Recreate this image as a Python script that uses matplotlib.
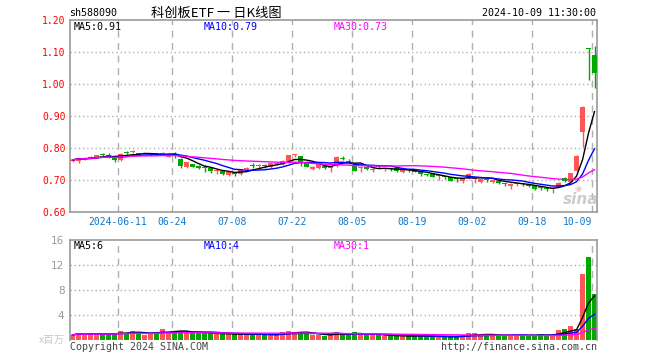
import matplotlib
matplotlib.use('Agg')
import matplotlib.pyplot as plt
import numpy as np
import pandas as pd
from matplotlib.transforms import blended_transform_factory

# ---------------- data ----------------
holidays = ['2024-06-10', '2024-09-16', '2024-09-17', '2024-10-01', '2024-10-02',
            '2024-10-03', '2024-10-04', '2024-10-07']
dates = [d.strftime('%Y-%m-%d') for d in pd.bdate_range('2024-05-29', '2024-10-09')
         if d.strftime('%Y-%m-%d') not in holidays]

opens = [0.760, 0.760, 0.765, 0.770, 0.772, 0.780, 0.779, 0.776, 0.762, 0.787,
         0.786, 0.782, 0.776, 0.778, 0.783, 0.782, 0.773, 0.780, 0.767, 0.742,
         0.750, 0.745, 0.740, 0.738, 0.728, 0.728, 0.716, 0.722, 0.718, 0.734,
         0.745, 0.744, 0.746, 0.740, 0.750, 0.750, 0.758, 0.777, 0.775, 0.752,
         0.733, 0.739, 0.744, 0.737, 0.744, 0.768, 0.759, 0.743, 0.737, 0.740,
         0.731, 0.744, 0.733, 0.736, 0.737, 0.725, 0.733, 0.731, 0.728, 0.717,
         0.721, 0.712, 0.711, 0.708, 0.705, 0.698, 0.706, 0.703, 0.695, 0.702,
         0.694, 0.698, 0.689, 0.681, 0.688, 0.688, 0.683, 0.681, 0.677, 0.674,
         0.671, 0.679, 0.705, 0.695, 0.729, 0.851, 1.112, 1.091]
highs = [0.766, 0.770, 0.771, 0.774, 0.779, 0.785, 0.783, 0.777, 0.783, 0.792,
         0.794, 0.784, 0.781, 0.781, 0.784, 0.788, 0.784, 0.786, 0.768, 0.757,
         0.751, 0.746, 0.746, 0.740, 0.735, 0.729, 0.725, 0.724, 0.735, 0.740,
         0.752, 0.749, 0.749, 0.754, 0.756, 0.762, 0.778, 0.782, 0.776, 0.753,
         0.743, 0.750, 0.745, 0.742, 0.774, 0.775, 0.767, 0.752, 0.742, 0.741,
         0.736, 0.746, 0.737, 0.738, 0.738, 0.732, 0.737, 0.733, 0.729, 0.720,
         0.722, 0.716, 0.713, 0.709, 0.706, 0.706, 0.721, 0.706, 0.703, 0.705,
         0.701, 0.699, 0.690, 0.690, 0.690, 0.690, 0.684, 0.682, 0.678, 0.675,
         0.677, 0.693, 0.710, 0.722, 0.777, 0.930, 1.112, 1.120]
lows = [0.755, 0.752, 0.763, 0.767, 0.770, 0.776, 0.768, 0.757, 0.760, 0.780,
        0.783, 0.778, 0.775, 0.776, 0.777, 0.778, 0.771, 0.768, 0.736, 0.736,
        0.740, 0.733, 0.726, 0.722, 0.719, 0.716, 0.711, 0.712, 0.716, 0.728,
        0.738, 0.738, 0.738, 0.738, 0.748, 0.748, 0.752, 0.771, 0.744, 0.740,
        0.731, 0.734, 0.735, 0.726, 0.742, 0.7625, 0.752, 0.728, 0.726, 0.732,
        0.725, 0.738, 0.727, 0.729, 0.726, 0.722, 0.726, 0.724, 0.712, 0.714,
        0.709, 0.700, 0.702, 0.697, 0.693, 0.690, 0.704, 0.690, 0.690, 0.695,
        0.692, 0.689, 0.680, 0.671, 0.681, 0.680, 0.677, 0.670, 0.669, 0.667,
        0.660, 0.678, 0.695, 0.693, 0.727, 0.802, 1.013, 0.987]
closes = [0.763, 0.768, 0.768, 0.771, 0.777, 0.778, 0.776, 0.763, 0.782, 0.785,
          0.788, 0.781, 0.779, 0.780, 0.778, 0.783, 0.782, 0.778, 0.744, 0.756,
          0.742, 0.737, 0.738, 0.727, 0.729, 0.718, 0.724, 0.720, 0.733, 0.735,
          0.743, 0.745, 0.744, 0.752, 0.753, 0.760, 0.777, 0.778, 0.754, 0.742,
          0.742, 0.749, 0.737, 0.738, 0.773, 0.766, 0.757, 0.729, 0.741, 0.733,
          0.735, 0.740, 0.734, 0.734, 0.727, 0.731, 0.731, 0.726, 0.718, 0.716,
          0.710, 0.713, 0.708, 0.698, 0.703, 0.705, 0.720, 0.705, 0.702, 0.700,
          0.700, 0.690, 0.687, 0.689, 0.689, 0.686, 0.681, 0.671, 0.675, 0.672,
          0.672, 0.692, 0.698, 0.721, 0.776, 0.927, 1.110, 1.035]
volumes = [0.80, 1.17, 0.80, 1.07, 0.90, 0.96, 0.96, 1.07, 1.49, 1.07,
           1.49, 1.07, 0.80, 1.07, 1.33, 1.76, 1.17, 1.44, 1.44, 1.33,
           1.07, 1.07, 1.07, 1.07, 0.96, 0.96, 0.91, 0.91, 0.91, 0.91,
           0.91, 0.91, 0.80, 0.80, 0.80, 1.33, 1.49, 1.33, 1.17, 0.96,
           0.80, 0.80, 0.69, 0.90, 1.33, 0.80, 0.80, 1.33, 0.96, 0.80,
           0.80, 0.80, 0.64, 0.64, 0.64, 0.64, 0.64, 0.64, 0.64, 0.53,
           0.53, 0.53, 0.53, 0.53, 0.53, 0.75, 1.12, 1.07, 0.75, 0.75,
           0.75, 0.75, 0.75, 0.75, 0.75, 0.75, 0.75, 0.75, 0.96, 0.75,
           0.75, 1.60, 1.76, 2.24, 1.76, 10.56, 13.33, 7.36]

tick_dates = ['2024-06-11', '2024-06-24', '2024-07-08', '2024-07-22', '2024-08-05',
              '2024-08-19', '2024-09-02', '2024-09-18', '2024-10-09']
tick_labels = ['2024-06-11', '06-24', '07-08', '07-22', '08-05', '08-19', '09-02',
               '09-18', '10-09']
price_ticks = [0.60, 0.70, 0.80, 0.90, 1.00, 1.10, 1.20]
vol_ticks = [4, 8, 12, 16]

symbol = 'sh588090'
title = '科创板ETF 一 日K线图'
timestamp = '2024-10-09 11:30:00'
ma_text = ['MA5:0.91', 'MA10:0.79', 'MA30:0.73']
vma_text = ['MA5:6', 'MA10:4', 'MA30:1']

# ---------------- style ----------------
RED = '#ff5555'
GREEN = '#00a800'
FRAME = '#999999'
GRID = '#b0b0b0'
MONO = 'DejaVu Sans Mono'
CJK = ['Noto Sans CJK SC', 'DejaVu Sans']
MA_COLORS = ['#000000', '#0000ff', '#ff00ff']

W, H = 660, 360
fig = plt.figure(figsize=(6.6, 3.6), dpi=100)
fig.patch.set_facecolor('white')


def fp(x, y):
    return x / W, 1 - y / H


ax = fig.add_axes([70 / W, 1 - 212 / H, 527 / W, 192 / H])
axv = fig.add_axes([70 / W, 1 - 340 / H, 527 / W, 100 / H])

o = np.array(opens)
h = np.array(highs)
l = np.array(lows)
c = np.array(closes)
v = np.array(volumes)
n = len(c)
x = np.arange(n)
bw = 5 / 6
xc = x + bw / 2
up = c >= o
colors = np.where(up, RED, GREEN)
tick_idx = [dates.index(d) for d in tick_dates]

for a in (ax, axv):
    a.set_xlim(0, 527 / 6)
    for s in a.spines.values():
        s.set_color(FRAME)
        s.set_linewidth(1.2)
    a.set_xticks([])
    for ti in tick_idx:
        a.axvline(ti, color=GRID, lw=1, ls=(0, (5, 4)), zorder=0.5)

# ---- price panel ----
ax.set_ylim(0.60, 1.20)
for p in price_ticks[1:-1]:
    ax.axhline(p, color=GRID, lw=1, ls=(0, (1, 2)), zorder=0.5)
px = 0.6 / 192
bottoms = np.minimum(o, c)
heights = np.maximum(np.abs(c - o), px)
ax.vlines(xc, l, h, colors=colors, lw=1, zorder=2)
ax.bar(x, heights, width=bw, bottom=bottoms, align='edge', color=colors,
       linewidth=0, zorder=3)

cs = pd.Series(c)
for win, col in zip([5, 10, 30], MA_COLORS):
    ax.plot(xc, cs.rolling(win, min_periods=1).mean(), color=col, lw=1, zorder=4)

ax.set_yticks(price_ticks)
ax.set_yticklabels(['%.2f' % p for p in price_ticks], color='#ff0000',
                   fontsize=7, family=MONO)
ax.tick_params(axis='y', length=0, pad=3)

tr = blended_transform_factory(ax.transData, ax.transAxes)
for ti, lab in zip(tick_idx, tick_labels):
    ha = 'right' if ti == n - 1 else 'center'
    ax.text(ti, -10 / 192, lab, transform=tr, ha=ha, va='center', fontsize=7,
            family=MONO, color='#0a78d0')

# sina watermark
fig.text(*fp(578, 189), '◉', ha='center', va='center', fontsize=6,
         color='#e8b4b4', alpha=0.8)
fig.text(*fp(581, 200), 'sina', ha='center', va='center', fontsize=11,
         style='italic', weight='bold', color='#c4c4c4', alpha=0.85)

# ---- volume panel ----
axv.set_ylim(0, 16)
axv.spines['bottom'].set_visible(False)
for t in vol_ticks[:-1]:
    axv.axhline(t, color=GRID, lw=1, ls=(0, (1, 2)), zorder=0.5)
axv.bar(x, v, width=bw, align='edge', color=colors, linewidth=0, zorder=2)
vs = pd.Series(v)
for win, col in zip([5, 10, 30], MA_COLORS):
    axv.plot(xc, vs.rolling(win, min_periods=1).mean(), color=col, lw=1, zorder=4)
axv.set_yticks(vol_ticks)
axv.set_yticklabels([str(t) for t in vol_ticks], color='#999999', fontsize=7.5)
axv.tick_params(axis='y', length=0, pad=4)

# ---- texts ----
fig.text(*fp(69, 13), symbol, ha='left', va='center', fontsize=7.2, family=MONO)
fig.text(*fp(216, 13), title, ha='center', va='center', fontsize=9.5, family=CJK)
fig.text(*fp(596, 13), timestamp, ha='right', va='center', fontsize=7.2, family=MONO)

for xx, t, col in zip([74, 204, 334], ma_text, MA_COLORS):
    fig.text(*fp(xx, 27), t, ha='left', va='center', fontsize=7.2, family=MONO, color=col)
for xx, t, col in zip([74, 204, 334], vma_text, MA_COLORS):
    fig.text(*fp(xx, 246), t, ha='left', va='center', fontsize=7.2, family=MONO, color=col)

fig.text(*fp(65, 340), 'x百万', ha='right', va='center', fontsize=7.5,
         family=CJK, color='#c8c8c8')
fig.text(*fp(70, 347), 'Copyright 2024 SINA.COM', ha='left', va='center',
         fontsize=7.2, family=MONO, color='#444444')
fig.text(*fp(597, 347), 'http://finance.sina.com.cn', ha='right', va='center',
         fontsize=7.2, family=MONO, color='#444444')

fig.savefig('out.png', dpi=100)
